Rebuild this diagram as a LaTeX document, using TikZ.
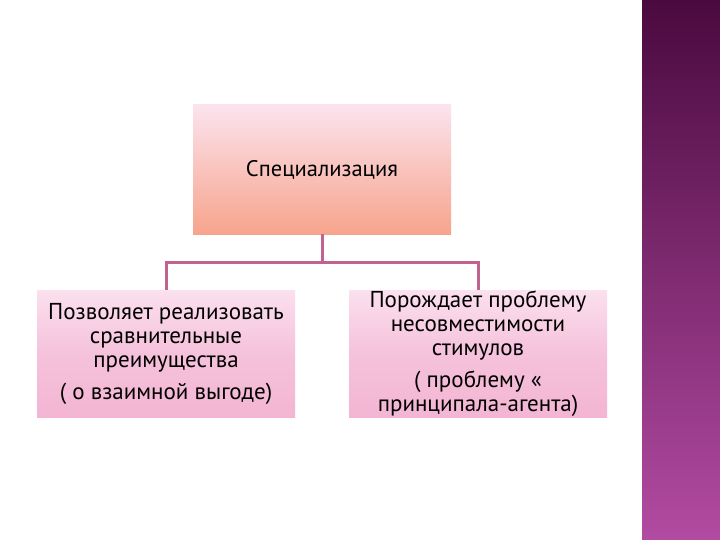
\documentclass[tikz,border=0pt]{standalone}
\usepackage{fontspec}
\setmainfont{PT Sans}
\definecolor{line}{HTML}{C2628F}
\definecolor{btopA}{HTML}{FBE3EE}
\definecolor{bbotA}{HTML}{F7A48C}
\definecolor{ptop}{HTML}{FBE0EE}
\definecolor{pmid}{HTML}{F5C2DB}
\definecolor{pbot}{HTML}{F3B5D3}
\definecolor{stripA}{HTML}{4A0A3F}
\definecolor{stripB}{HTML}{B24BA2}
\begin{document}
\begin{tikzpicture}[x=1pt,y=-1pt,
  conn/.style={draw=line,line width=3pt},
  topbox/.style={top color=btopA,bottom color=bbotA,minimum width=258pt,minimum height=129pt,inner sep=0pt},
  subbox/.style={top color=ptop,bottom color=pbot,middle color=pmid,minimum width=258pt,minimum height=127pt,inner sep=0pt,align=center,font=\fontsize{23pt}{24pt}\selectfont}]
\useasboundingbox (0,0) rectangle (720,540);
\fill[white] (0,0) rectangle (720,540);
\shade[top color=stripA,bottom color=stripB] (642,0) rectangle (720,540);
\node[topbox,font=\fontsize{22.5pt}{24pt}\selectfont] (top) at (322,169.5) {Специализация};
\node[subbox] (l) at (166,353.5) {Позволяет реализовать\\сравнительные\\преимущества\\[8pt]( о взаимной выгоде)};
\node[subbox] (r) at (478,353.5) {Порождает проблему\\несовместимости\\стимулов\\[8pt]( проблему «\\принципала-агента)};
\coordinate (j) at (322,262);
\draw[conn] (top.south) -- (j);
\draw[conn] (l.north) |- (j) -| (r.north);
\end{tikzpicture}
\end{document}
